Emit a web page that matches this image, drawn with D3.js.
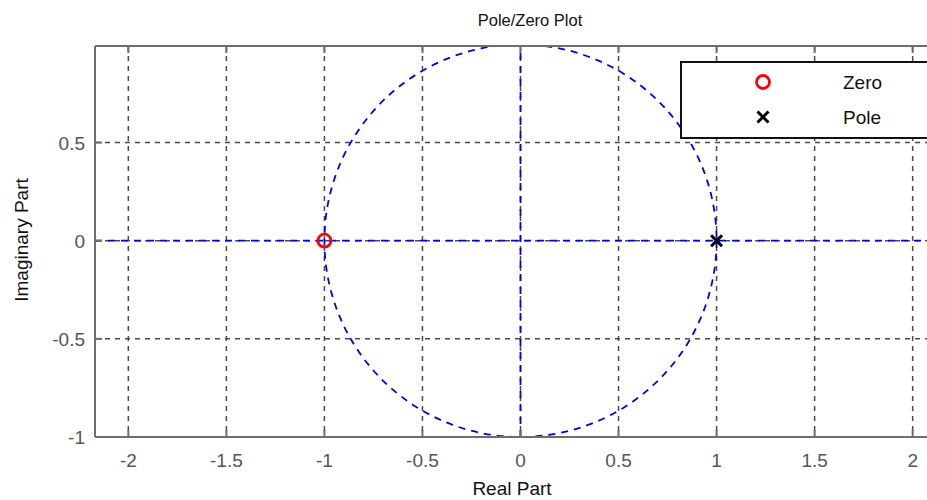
<!DOCTYPE html>
<html>
<head>
<meta charset="utf-8">
<script src="https://cdn.jsdelivr.net/npm/d3@7"></script>
<style>
  html, body { margin: 0; padding: 0; background: #fff; }
  svg { display: block; font-family: Arial, "Liberation Sans", sans-serif; }
</style>
</head>
<body>
<svg id="chart" width="927" height="500"></svg>
<script>
// ---- data ----
const xTicks = [-2, -1.5, -1, -0.5, 0, 0.5, 1, 1.5, 2];
const yTicks = [-1, -0.5, 0, 0.5];
const zerosRe = [-1];
const zerosIm = [0];
const polesRe = [1];
const polesIm = [0];
const legendLabels = ["Zero", "Pole"];
const xDomain = [-2.17, 2.17];
const yDomain = [-1, 0.992];
const unitRadius = 1;

(function () {
const svg = d3.select("#chart");
const pLeft = 95, pTop = 46, pBottom = 437, pRight = 946;

const x = d3.scaleLinear().domain(xDomain).range([pLeft, pRight]);
const y = d3.scaleLinear().domain(yDomain).range([pBottom, pTop]);

const gridColor = "#4a4a4a";
const axisColor = "#6e6e6e";

svg.append("defs").append("clipPath").attr("id", "plotclip")
  .append("rect").attr("x", pLeft).attr("y", pTop).attr("width", pRight - pLeft).attr("height", pBottom - pTop);

// grid
const grid = svg.append("g");
grid.selectAll(".gx").data(xTicks).enter().append("line")
  .attr("x1", d => x(d)).attr("x2", d => x(d)).attr("y1", pTop).attr("y2", pBottom)
  .attr("stroke", gridColor).attr("stroke-width", 1.5).attr("stroke-dasharray", "5,5");
grid.selectAll(".gy").data(yTicks).enter().append("line")
  .attr("y1", d => y(d)).attr("y2", d => y(d)).attr("x1", pLeft).attr("x2", pRight)
  .attr("stroke", gridColor).attr("stroke-width", 1.5).attr("stroke-dasharray", "5,5");

// unit circle and axes lines (blue dashed)
const plot = svg.append("g").attr("clip-path", "url(#plotclip)");
const blue = "#0000ee";
plot.append("ellipse")
  .attr("cx", x(0)).attr("cy", y(0))
  .attr("rx", x(unitRadius) - x(0)).attr("ry", y(0) - y(unitRadius))
  .attr("fill", "none").attr("stroke", blue).attr("stroke-width", 1.8).attr("stroke-dasharray", "7,6");
plot.append("line")
  .attr("x1", pLeft).attr("x2", pRight).attr("y1", y(0)).attr("y2", y(0))
  .attr("stroke", blue).attr("stroke-width", 1.8).attr("stroke-dasharray", "7,6");
plot.append("line")
  .attr("x1", x(0)).attr("x2", x(0)).attr("y1", y(-unitRadius)).attr("y2", y(unitRadius))
  .attr("stroke", blue).attr("stroke-width", 1.8).attr("stroke-dasharray", "7,6");

// axes frame
const frame = svg.append("g");
frame.append("line").attr("x1", pLeft).attr("x2", pRight).attr("y1", pTop).attr("y2", pTop)
  .attr("stroke", axisColor).attr("stroke-width", 2);
frame.append("line").attr("x1", pLeft).attr("x2", pRight).attr("y1", pBottom).attr("y2", pBottom)
  .attr("stroke", axisColor).attr("stroke-width", 2);
frame.append("line").attr("x1", pLeft).attr("x2", pLeft).attr("y1", pTop).attr("y2", pBottom)
  .attr("stroke", axisColor).attr("stroke-width", 2);

// ticks (inward)
const tl = 7;
frame.selectAll(".tt").data(xTicks).enter().append("line")
  .attr("x1", d => x(d)).attr("x2", d => x(d)).attr("y1", pTop).attr("y2", pTop + tl)
  .attr("stroke", axisColor).attr("stroke-width", 2);
frame.selectAll(".tb").data(xTicks).enter().append("line")
  .attr("x1", d => x(d)).attr("x2", d => x(d)).attr("y1", pBottom).attr("y2", pBottom - tl)
  .attr("stroke", axisColor).attr("stroke-width", 2);
frame.selectAll(".tlft").data(yTicks).enter().append("line")
  .attr("y1", d => y(d)).attr("y2", d => y(d)).attr("x1", pLeft).attr("x2", pLeft + tl)
  .attr("stroke", axisColor).attr("stroke-width", 2);

// tick labels
const labelColor = "#555";
svg.selectAll(".xl").data(xTicks).enter().append("text")
  .attr("x", d => x(d)).attr("y", 467)
  .attr("text-anchor", "middle").attr("font-size", 19).attr("fill", labelColor)
  .text(d => String(d));
svg.selectAll(".yl").data(yTicks).enter().append("text")
  .attr("x", 85).attr("y", d => y(d) + 7)
  .attr("text-anchor", "end").attr("font-size", 19).attr("fill", labelColor)
  .text(d => String(d));

// markers
svg.selectAll(".zero").data(zerosRe).enter().append("circle")
  .attr("cx", d => x(d)).attr("cy", (d, i) => y(zerosIm[i])).attr("r", 6.5)
  .attr("fill", "none").attr("stroke", "#ff0000").attr("stroke-width", 2.8);
const xs = 5.5;
svg.selectAll(".pole").data(polesRe).enter().append("path")
  .attr("d", (d, i) => {
    const cx = x(d), cy = y(polesIm[i]);
    return `M${cx - xs},${cy - xs}L${cx + xs},${cy + xs}M${cx - xs},${cy + xs}L${cx + xs},${cy - xs}`;
  })
  .attr("stroke", "#000").attr("stroke-width", 3).attr("fill", "none");

// title & axis labels
svg.append("text").attr("x", 530).attr("y", 26).attr("text-anchor", "middle")
  .attr("font-size", 16.5).attr("fill", "#111").text("Pole/Zero Plot");
svg.append("text").attr("x", 512).attr("y", 495).attr("text-anchor", "middle")
  .attr("font-size", 19).attr("fill", "#111").text("Real Part");
svg.append("text").attr("transform", "translate(28,240) rotate(-90)").attr("text-anchor", "middle")
  .attr("font-size", 19).attr("fill", "#111").text("Imaginary Part");

// legend
const lg = svg.append("g");
lg.append("rect").attr("x", 681).attr("y", 62).attr("width", 300).attr("height", 76)
  .attr("fill", "#fff").attr("stroke", "#111").attr("stroke-width", 2);
lg.append("circle").attr("cx", 763).attr("cy", 82).attr("r", 6.5)
  .attr("fill", "none").attr("stroke", "#ff0000").attr("stroke-width", 2.8);
lg.append("path")
  .attr("d", `M${763 - xs},${117 - xs}L${763 + xs},${117 + xs}M${763 - xs},${117 + xs}L${763 + xs},${117 - xs}`)
  .attr("stroke", "#000").attr("stroke-width", 3);
lg.selectAll(".lt").data(legendLabels).enter().append("text")
  .attr("x", 843).attr("y", (d, i) => 89 + i * 35)
  .attr("font-size", 19).attr("fill", "#111").text(d => d);
})();
</script>
</body>
</html>
